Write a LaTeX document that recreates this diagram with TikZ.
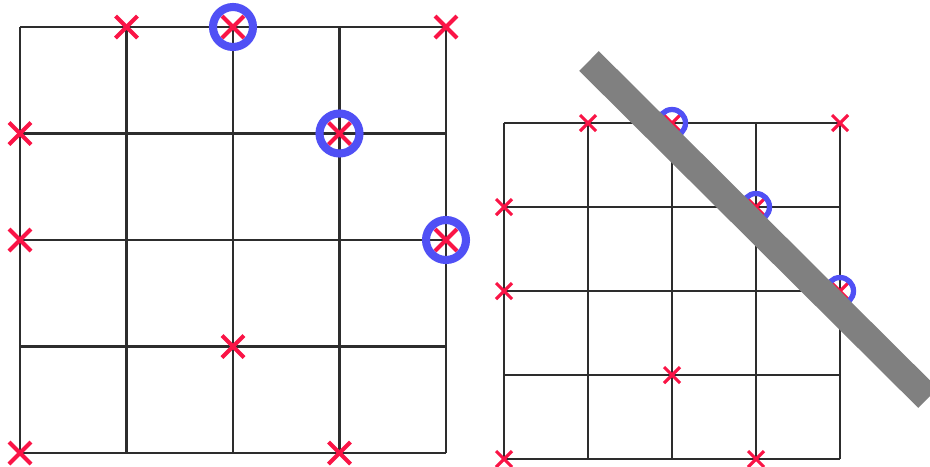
\documentclass[tikz,border=0pt]{standalone}
\usepackage{xcolor}
\usepackage{tikz}
\definecolor{gdgray}{RGB}{45,45,45}
\definecolor{gdred}{RGB}{250,20,70}
\definecolor{gdblue}{RGB}{80,80,245}
\definecolor{gdbar}{RGB}{128,128,128}
\tikzset{
  gdline/.style={draw=gdgray, line width=0.6pt},
  gdcross/.style={draw=gdred, line width=#1},
  gdring/.style={draw=gdblue, line width=#1},
  gdbarstyle/.style={draw=gdbar, line width=7.9pt}
}
% one board: origin x, origin y, cell, cross half size, cross width, ring radius, ring width
\newcommand{\gdboard}[7]{
  \begin{scope}[shift={(#1,#2)}]
    \foreach \i in {0,...,4} {
      \draw[gdline] (\i*#3,0) -- (\i*#3,4*#3);
      \draw[gdline] (0,\i*#3) -- (4*#3,\i*#3);
    }
    \foreach \c/\r in {1/0,2/0,4/0,0/1,3/1,0/2,4/2,2/3,0/4,3/4} {
      \draw[gdcross=#5] (\c*#3-#4,\r*#3-#4) -- (\c*#3+#4,\r*#3+#4);
      \draw[gdcross=#5] (\c*#3-#4,\r*#3+#4) -- (\c*#3+#4,\r*#3-#4);
    }
    \foreach \c/\r in {2/0,3/1,4/2}
      \draw[gdring=#7] (\c*#3,\r*#3) circle (#6);
  \end{scope}
}

\begin{document}
\begin{tikzpicture}[x=0.01cm,y=-0.01cm]
\useasboundingbox (0,0) rectangle (930,466);
\clip (0,0) rectangle (930,466);
\gdboard{20}{27}{106.5}{11}{1.15pt}{20}{2.3pt}
\gdboard{504}{123}{84}{8}{0.9pt}{13.5}{1.5pt}
\coordinate (barA) at (589,61);
\coordinate (barB) at (928,398);
\draw[gdbarstyle] (barA) -- (barB);
\end{tikzpicture}
\end{document}
